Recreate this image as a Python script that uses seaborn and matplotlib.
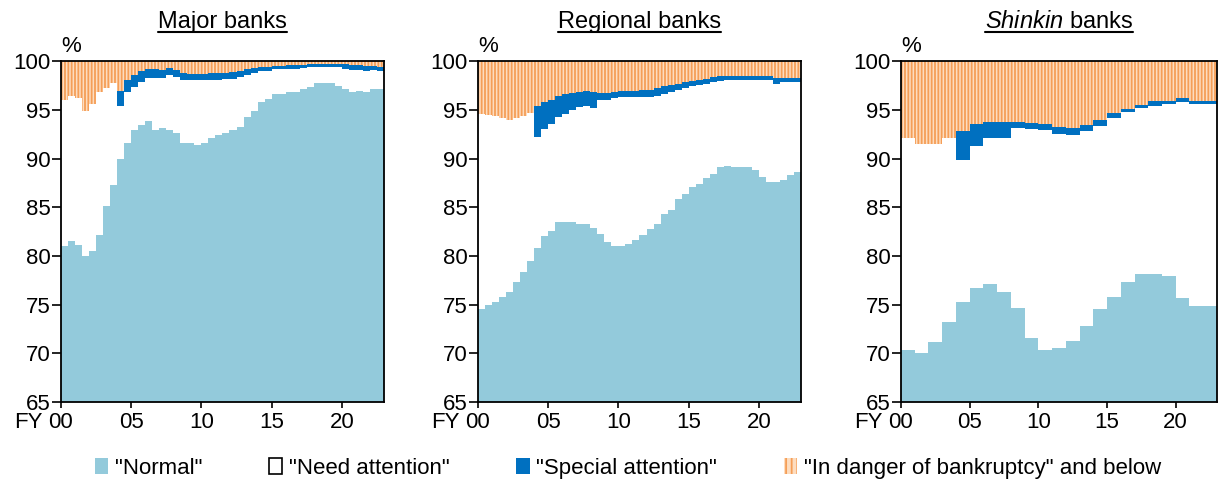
import numpy as np
import pandas as pd
import seaborn as sns
import matplotlib.pyplot as plt
from matplotlib.patches import Patch
from matplotlib.lines import Line2D
from matplotlib.colors import to_rgb

# shares of loans by borrower category (%)
# major / regional banks: semiannual, FY2000 H1 .. FY2022 H2
major_normal = [81.0, 81.5, 81.1, 80.0, 80.5, 82.2, 85.1, 87.3, 90.0, 91.6,
                92.9, 93.5, 93.9, 92.9, 93.1, 92.9, 92.6, 91.6, 91.6, 91.4,
                91.6, 92.1, 92.4, 92.6, 92.9, 93.3, 94.3, 94.9, 95.8, 96.1,
                96.6, 96.6, 96.8, 96.8, 97.2, 97.4, 97.8, 97.8, 97.8, 97.5,
                97.2, 96.8, 97.0, 96.8, 97.2, 97.2]
major_need = [15.0, 14.9, 15.1, 14.9, 15.1, 14.6, 12.2, 10.5, 5.4, 5.2,
              4.5, 4.4, 4.4, 5.4, 5.2, 5.65, 5.8, 6.5, 6.5, 6.7,
              6.5, 6.0, 5.7, 5.55, 5.3, 5.1, 4.25, 3.9, 3.2, 2.9,
              2.6, 2.6, 2.4, 2.45, 2.1, 2.0, 1.65, 1.65, 1.65, 1.95,
              2.0, 2.3, 2.1, 2.25, 1.95, 1.8]
major_special = [0, 0, 0, 0, 0, 0, 0, 0, 1.6, 1.3,
                 1.2, 1.1, 0.95, 0.95, 0.85, 0.8, 0.75, 0.7, 0.55, 0.55,
                 0.55, 0.7, 0.7, 0.7, 0.7, 0.65, 0.65, 0.55, 0.45, 0.45,
                 0.35, 0.35, 0.4, 0.35, 0.35, 0.3, 0.27, 0.27, 0.27, 0.27,
                 0.5, 0.5, 0.5, 0.5, 0.35, 0.45]
major_danger = [4.0, 3.6, 3.8, 5.1, 4.4, 3.2, 2.7, 2.2, 3.0, 1.9,
                1.4, 1.0, 0.75, 0.75, 0.85, 0.65, 0.85, 1.2, 1.35, 1.35,
                1.35, 1.2, 1.2, 1.15, 1.1, 0.95, 0.8, 0.65, 0.55, 0.55,
                0.45, 0.45, 0.4, 0.4, 0.35, 0.3, 0.28, 0.28, 0.28, 0.28,
                0.3, 0.4, 0.4, 0.45, 0.5, 0.55]

regional_normal = [74.5, 75.0, 75.3, 75.8, 76.3, 77.3, 78.3, 79.5, 80.8, 82.0,
                   82.6, 83.5, 83.5, 83.5, 83.3, 83.3, 82.9, 82.3, 81.4, 81.0,
                   81.0, 81.2, 81.6, 82.1, 82.8, 83.3, 84.3, 84.7, 85.8, 86.4,
                   87.1, 87.4, 88.0, 88.4, 89.1, 89.2, 89.1, 89.1, 89.1, 88.85,
                   88.1, 87.6, 87.6, 87.8, 88.3, 88.6]
regional_need = [20.1, 19.5, 19.1, 18.4, 17.7, 16.9, 16.1, 15.2, 11.4, 11.0,
                 11.0, 10.8, 11.1, 11.5, 12.0, 12.1, 12.3, 13.7, 14.6, 15.2,
                 15.3, 15.1, 14.7, 14.2, 13.5, 13.1, 12.35, 12.1, 11.3, 10.85,
                 10.35, 10.15, 9.7, 9.45, 8.9, 8.9, 9.0, 9.0, 9.0, 9.25,
                 10.0, 10.5, 10.1, 10.1, 9.6, 9.3]
regional_special = [0, 0, 0, 0, 0, 0, 0, 0, 3.2, 2.8,
                    2.4, 2.1, 2.0, 1.7, 1.5, 1.6, 1.7, 0.7, 0.7, 0.7,
                    0.7, 0.7, 0.7, 0.8, 0.8, 0.85, 0.8, 0.75, 0.6, 0.6,
                    0.55, 0.55, 0.5, 0.5, 0.45, 0.35, 0.35, 0.35, 0.35, 0.35,
                    0.35, 0.35, 0.55, 0.35, 0.35, 0.35]
regional_danger = [5.4, 5.5, 5.6, 5.8, 6.0, 5.8, 5.6, 5.3, 4.6, 4.2,
                   4.0, 3.6, 3.4, 3.3, 3.2, 3.0, 3.1, 3.3, 3.3, 3.1,
                   3.0, 3.0, 3.0, 2.9, 2.9, 2.75, 2.55, 2.45, 2.3, 2.15,
                   2.0, 1.9, 1.8, 1.65, 1.55, 1.55, 1.55, 1.55, 1.55, 1.55,
                   1.55, 1.55, 1.75, 1.75, 1.75, 1.75]

# shinkin banks: annual, FY2000 .. FY2022
shinkin_normal = [70.3, 70.0, 71.2, 73.2, 75.3, 76.7, 77.1, 76.3, 74.6, 71.6,
                  70.3, 70.5, 71.3, 72.8, 74.5, 75.8, 77.3, 78.1, 78.1, 77.9,
                  75.7, 74.9, 74.9]
shinkin_need = [21.8, 21.5, 20.3, 18.9, 14.6, 14.6, 15.0, 15.8, 18.5, 21.4,
                22.6, 22.0, 21.1, 20.0, 18.9, 18.4, 17.5, 17.1, 17.35, 17.7,
                20.1, 20.75, 20.75]
shinkin_special = [0, 0, 0, 0, 2.9, 2.3, 1.7, 1.7, 0.7, 0.7,
                   0.7, 0.8, 0.7, 0.7, 0.6, 0.5, 0.3, 0.35, 0.45, 0.35,
                   0.4, 0.3, 0.3]
shinkin_danger = [7.9, 8.5, 8.5, 7.9, 7.2, 6.4, 6.2, 6.2, 6.2, 6.3,
                  6.4, 6.7, 6.9, 6.5, 6.0, 5.3, 4.9, 4.45, 4.1, 4.05,
                  3.8, 4.05, 4.05]

categories = ['"Normal"', '"Need attention"', '"Special attention"',
              '"In danger of bankruptcy" and below']
x_ticks = [0, 5, 10, 15, 20]
x_tick_labels = ["00", "05", "10", "15", "20"]
y_ticks = [65, 70, 75, 80, 85, 90, 95, 100]

c_normal = "#93CADB"
c_need = "#FFFFFF"
c_special = "#0070C0"
c_peach = "#FDDDC0"
c_orange = "#F59E57"

sns.set_style("white")
plt.rcParams["font.family"] = ["Liberation Sans", "DejaVu Sans"]
plt.rcParams["mathtext.fontset"] = "custom"
plt.rcParams["mathtext.rm"] = "Liberation Sans"
plt.rcParams["mathtext.it"] = "Liberation Sans:italic"
plt.rcParams["hatch.linewidth"] = 1.3
plt.rcParams["text.color"] = "black"
plt.rcParams["xtick.color"] = "black"
plt.rcParams["ytick.color"] = "black"


def long_frame(width, normal, need, special, danger):
    n = len(normal)
    centers = np.arange(n) * width + width / 2
    parts = []
    for name, vals in zip(categories, [normal, need, special, danger]):
        parts.append(pd.DataFrame({"fy": centers, "category": name, "share": vals}))
    return pd.concat(parts, ignore_index=True), list(np.arange(n + 1) * width)


panels = [
    ("Major banks", 0.5, major_normal, major_need, major_special, major_danger),
    ("Regional banks", 0.5, regional_normal, regional_need, regional_special, regional_danger),
    (r"$\mathit{Shinkin}$ banks", 1.0, shinkin_normal, shinkin_need, shinkin_special, shinkin_danger),
]
positions = [[0.0500, 0.168, 0.265, 0.705],
             [0.3921, 0.168, 0.265, 0.705],
             [0.7391, 0.168, 0.2592, 0.705]]
palette = dict(zip(categories, [c_normal, c_need, c_special, c_peach]))

fig = plt.figure(figsize=(12.19, 4.83), dpi=100)
titles = []
for (title, width, nrm, ned, spc, dng), pos in zip(panels, positions):
    ax = fig.add_axes(pos)
    df, edges = long_frame(width, nrm, ned, spc, dng)
    sns.histplot(data=df, x="fy", weights="share", hue="category",
                 hue_order=categories[::-1], multiple="stack", bins=edges,
                 element="step", fill=True, palette=palette, alpha=1,
                 linewidth=0, legend=False, ax=ax)
    for coll in ax.collections:
        fc = coll.get_facecolor()
        if len(fc) and np.allclose(fc[0][:3], to_rgb(c_peach), atol=0.02):
            coll.set_edgecolor(c_orange)
            if hasattr(coll, "set_hatchcolor"):
                coll.set_hatchcolor(c_orange)
            coll.set_hatch("|||||")
            coll.set_linewidth(0)
    ax.set_xlim(0, 23)
    ax.set_ylim(65, 100)
    ax.set_xlabel("")
    ax.set_ylabel("")
    ax.set_xticks(x_ticks)
    ax.set_xticklabels(x_tick_labels)
    ax.set_yticks(y_ticks)
    ax.tick_params(axis="y", direction="out", length=6.5, width=1.2, pad=1,
                   labelsize=16, left=True)
    ax.tick_params(axis="x", direction="out", length=4, width=1.2, pad=3,
                   labelsize=16, bottom=True)
    for sp in ax.spines.values():
        sp.set_visible(True)
        sp.set_color("black")
        sp.set_linewidth(1.3)
    ax.annotate("%", xy=(0, 1), xycoords="axes fraction", xytext=(0, 3),
                textcoords="offset points", ha="left", va="bottom", fontsize=16)
    ax.annotate("FY", xy=(0, 0), xycoords="axes fraction", xytext=(-13, -7.5),
                textcoords="offset points", ha="right", va="top", fontsize=16)
    cx = pos[0] + pos[2] / 2
    titles.append(fig.text(cx, 1 - 28 / 483, title, ha="center", va="baseline",
                           fontsize=17))

handles = [Patch(facecolor=c_normal, edgecolor="none"),
           Patch(facecolor="white", edgecolor="black", linewidth=1.2),
           Patch(facecolor=c_special, edgecolor="none"),
           Patch(facecolor=c_peach, edgecolor=c_orange, hatch="|||", linewidth=0)]
fig.legend(handles, categories, loc="center", bbox_to_anchor=(0.515, 0.031),
           ncol=4, frameon=False, fontsize=16, handlelength=0.6,
           handleheight=0.7, handletextpad=0.3, columnspacing=3.0)

# underline the panel titles
fig.canvas.draw()
renderer = fig.canvas.get_renderer()
inv = fig.transFigure.inverted()
for t in titles:
    bb = t.get_window_extent(renderer)
    x0, _ = inv.transform((bb.x0, 0))
    x1, _ = inv.transform((bb.x1, 0))
    y = 1 - 32 / 483
    fig.add_artist(Line2D([x0, x1], [y, y], transform=fig.transFigure,
                          color="black", linewidth=1.5))

fig.savefig("out.png", dpi=100)
